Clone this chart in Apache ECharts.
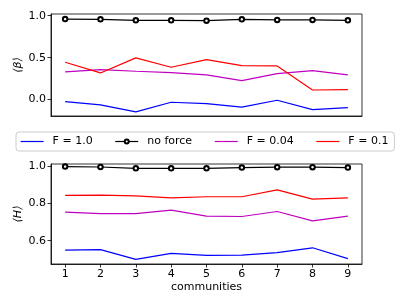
<!DOCTYPE html>
<html><head><meta charset="utf-8">
<script src="https://cdn.jsdelivr.net/npm/echarts@6/dist/echarts.min.js"></script>
<style>html,body{margin:0;padding:0;background:#fff}#c{width:407px;height:305px}</style>
</head><body><div id="c"></div>
<script>
const communities = [1,2,3,4,5,6,7,8,9];
const seriesNames = ['F = 1.0','no force','F = 0.04','F = 0.1'];
// top panel: <beta>
const betaF1 = [-0.024,-0.063,-0.146,-0.031,-0.048,-0.090,-0.007,-0.119,-0.095];
const betaNoForce = [0.960,0.957,0.945,0.945,0.940,0.957,0.950,0.950,0.945];
const betaF004 = [0.330,0.357,0.338,0.321,0.294,0.226,0.310,0.345,0.294];
const betaF01 = [0.445,0.318,0.497,0.386,0.476,0.405,0.401,0.115,0.119];
// bottom panel: <H>
const hF1 = [0.550,0.552,0.500,0.532,0.521,0.523,0.536,0.562,0.504];
const hNoForce = [0.998,0.996,0.989,0.989,0.989,0.993,0.995,0.995,0.993];
const hF004 = [0.754,0.745,0.745,0.764,0.732,0.730,0.757,0.707,0.732];
const hF01 = [0.843,0.845,0.841,0.830,0.836,0.836,0.873,0.823,0.830];
const betaTicks = [0.0,0.5,1.0];
const hTicks = [0.6,0.8,1.0];

const colors = ['#0000ff','#000000','#bf00bf','#ff0000'];
const pair = arr => arr.map((v,i)=>[communities[i], v]);
const font = 'DejaVu Sans';
const axisCommon = {
  axisLine:{show:true,onZero:false,lineStyle:{color:'#000',width:0.8}},
  axisTick:{show:true,inside:false,length:3.5,lineStyle:{color:'#000',width:0.8}},
  axisLabel:{color:'#000',fontFamily:font,fontSize:11,margin:5},
  splitLine:{show:false},
  nameMoveOverlap:false
};
function mk(name, data, idx, axis) {
  const isBlack = idx === 1;
  return {
    name: name, type:'line', xAxisIndex:axis, yAxisIndex:axis,
    data: pair(data),
    symbol: isBlack ? 'emptyCircle' : 'none',
    symbolSize: 4.5,
    showSymbol: isBlack,
    itemStyle:{color:colors[idx], borderColor:'#444', borderWidth:0.8},
    lineStyle:{color:colors[idx], width:1.2},
    animation:false, z: isBlack ? 3 : 2
  };
}
const topSets = [betaF1, betaNoForce, betaF004, betaF01];
const botSets = [hF1, hNoForce, hF004, hF01];
const series = [];
topSets.forEach((d,i)=>series.push(mk(seriesNames[i], d, i, 0)));
botSets.forEach((d,i)=>series.push(mk(seriesNames[i], d, i, 1)));

const chart = echarts.init(document.getElementById('c'));
chart.setOption({
  animation:false,
  backgroundColor:'#fff',
  grid:[
    {left:51, width:311, top:14, height:102, show:true, borderColor:'#000', borderWidth:0.8},
    {left:51, width:311, top:164, height:100, show:true, borderColor:'#000', borderWidth:0.8}
  ],
  xAxis:[
    Object.assign({}, axisCommon, {type:'value', gridIndex:0, min:0.6, max:9.4,
      axisTick:{show:false}, axisLabel:{show:false}}),
    Object.assign({}, axisCommon, {type:'value', gridIndex:1, min:0.6, max:9.4,
      axisTick:Object.assign({}, axisCommon.axisTick, {customValues:communities}),
      axisLabel:Object.assign({}, axisCommon.axisLabel, {customValues:communities}),
      name:'communities', nameLocation:'middle', nameGap:18,
      nameTextStyle:{color:'#000',fontFamily:font,fontSize:11}})
  ],
  yAxis:[
    Object.assign({}, axisCommon, {type:'value', gridIndex:0, min:-0.195, max:1.02,
      axisTick:Object.assign({}, axisCommon.axisTick, {customValues:betaTicks}),
      axisLabel:Object.assign({}, axisCommon.axisLabel, {customValues:betaTicks, formatter:v=>v.toFixed(1)}),
      name:'⟨β⟩', nameLocation:'middle', nameGap:27,
      nameTextStyle:{color:'#000',fontFamily:font,fontSize:11,fontStyle:'italic'}}),
    Object.assign({}, axisCommon, {type:'value', gridIndex:1, min:0.475, max:1.012,
      axisTick:Object.assign({}, axisCommon.axisTick, {customValues:hTicks}),
      axisLabel:Object.assign({}, axisCommon.axisLabel, {customValues:hTicks, formatter:v=>v.toFixed(1)}),
      name:'⟨H⟩', nameLocation:'middle', nameGap:27,
      nameTextStyle:{color:'#000',fontFamily:font,fontSize:11,fontStyle:'italic'}})
  ],
  legend:{
    data:[
      {name:seriesNames[0], itemStyle:{opacity:0}},
      {name:seriesNames[1]},
      {name:seriesNames[2], itemStyle:{opacity:0}},
      {name:seriesNames[3], itemStyle:{opacity:0}}
    ],
    left:16, top:132, orient:'horizontal',
    padding:[4,6,4,4], itemGap:22, itemWidth:23, itemHeight:5,
    lineStyle:{width:1.2},
    borderColor:'#cccccc', borderWidth:1, borderRadius:3, backgroundColor:'#fff',
    textStyle:{color:'#000',fontFamily:font,fontSize:11,padding:[0,0,0,4]}
  },
  series: series
});
</script></body></html>
